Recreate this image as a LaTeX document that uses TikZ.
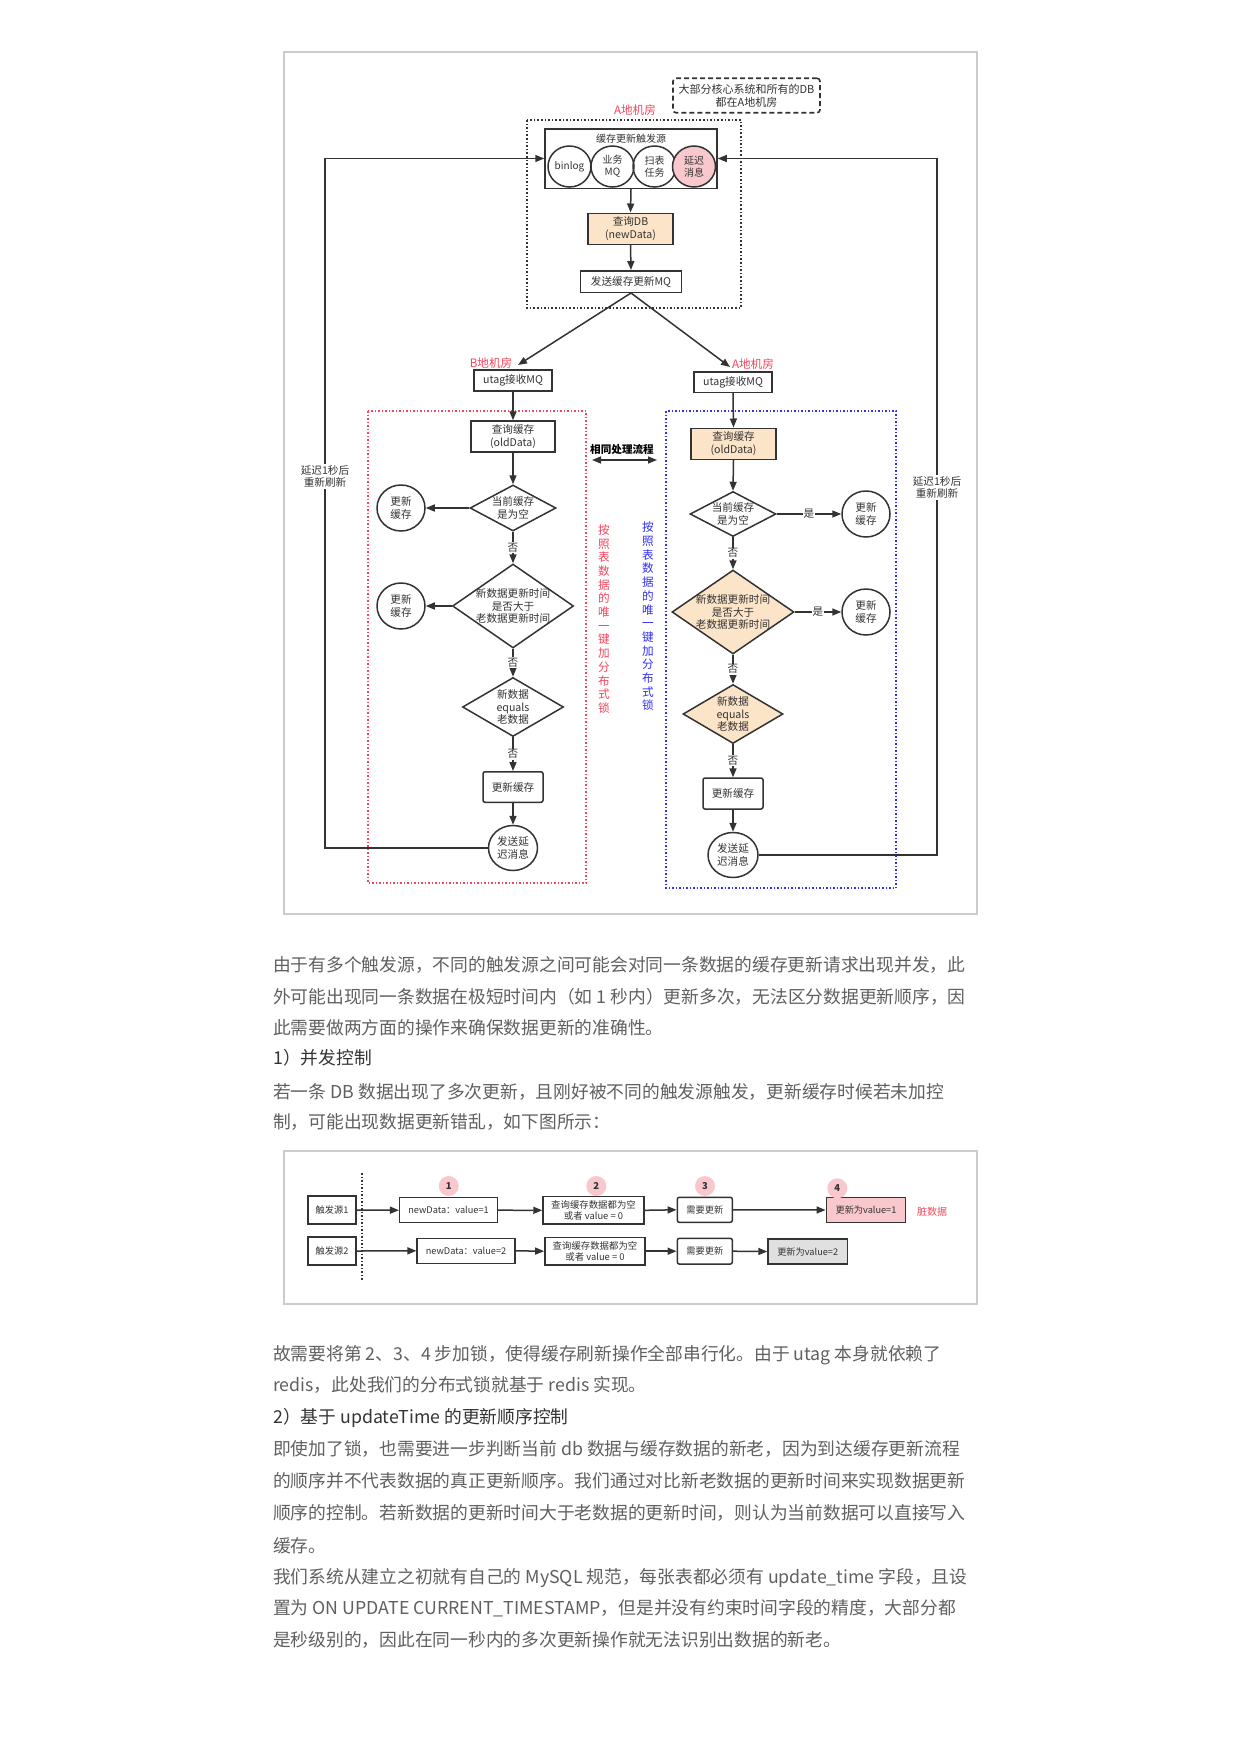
\documentclass[tikz,border=0pt]{standalone}
\usepackage{fontspec}
\setmainfont{Noto Sans CJK SC}
\usetikzlibrary{arrows.meta,shapes.geometric}
\definecolor{dk}{HTML}{333333}
\definecolor{peach}{HTML}{FCE4C8}
\definecolor{pinkf}{HTML}{F8C8CC}
\definecolor{redt}{HTML}{F5455C}
\definecolor{bluet}{HTML}{3030F0}
\definecolor{framec}{HTML}{CCCCCC}
\definecolor{bodyt}{HTML}{606060}
\definecolor{headt}{HTML}{333333}
\definecolor{grayf}{HTML}{E0E0E0}
\newcommand\dfont{\fontsize{10.6}{12.4}\selectfont}
\newcommand\sfontb{\fontsize{9.2}{11}\selectfont}
\tikzset{
  arr/.style={draw=dk, line width=1.5pt, -{Triangle[length=9pt,width=7pt]}},
  ln/.style={draw=dk, line width=1.5pt},
  box/.style={draw=dk, line width=1.5pt, inner sep=0pt, align=center, font=\dfont, text=dk},
  rbox/.style={box, rounded corners=2pt},
  circnode/.style={ellipse, draw=dk, line width=1.5pt, inner sep=0pt, align=center, font=\dfont, text=dk, minimum width=48pt, minimum height=46pt},
  trigc/.style={ellipse, draw=dk, line width=1.5pt, inner sep=0pt, align=center, font=\fontsize{10}{12}\selectfont, text=dk, minimum width=43pt, minimum height=41pt},
  dia/.style={diamond, draw=dk, line width=1.5pt, inner sep=0pt},
  dtext/.style={inner sep=0pt, align=center, font=\dfont, text=dk},
  lab/.style={fill=white, inner sep=1pt, font=\dfont, text=dk},
  redlbl/.style={inner sep=0pt, font=\fontsize{11.6}{13}\selectfont, text=redt},
  vtext/.style={inner sep=0pt, align=center, font=\fontsize{11.6}{13.7}\selectfont},
  frameb/.style={draw=framec, line width=1.5pt},
  sbox/.style={draw=dk, line width=1.5pt, inner sep=0pt, align=center, font=\sfontb, text=dk},
  numc/.style={circle, fill=pinkf, inner sep=0pt, minimum size=20pt, font=\fontsize{9.5}{11}\selectfont\bfseries, text=dk},
  para/.style={anchor=base west, inner sep=0pt, font=\fontsize{17.75}{22}\selectfont, text=bodyt},
  head/.style={para, text=headt},
}
\begin{document}
\begin{tikzpicture}[x=1pt,y=-1pt]
\useasboundingbox[fill=white] (0,0) rectangle (1241,1754);

% ===== top diagram =====
\draw[frameb] (284,52) rectangle (977,914);
\node[box, dashed, dash pattern=on 5pt off 3pt, line width=1.6pt, rounded corners=3pt, minimum width=147pt, minimum height=34.5pt, font=\fontsize{11}{12.8}\selectfont] (note) at (746.5,95.5) {大部分核心系统和所有的DB\\都在A地机房};
\node[redlbl] (lblA1) at (635,110) {A地机房};
\draw[draw=dk, line width=1.6pt, dotted] (527,120) rectangle (741,308);

\node[box, minimum width=172pt, minimum height=59.5pt] (trig) at (631,158.5) {};
\node[inner sep=0pt, font=\fontsize{10}{11}\selectfont, text=dk] (trigt) at (631,138.5) {缓存更新触发源};
\node[trigc] (c1) at (569.5,166.5) {binlog};
\node[trigc] (c2) at (612.5,166.5) {业务\\MQ};
\node[trigc] (c3) at (654.5,166.5) {扫表\\任务};
\node[trigc, fill=pinkf] (c4) at (694,166.5) {延迟\\消息};

\node[box, fill=peach, minimum width=85pt, minimum height=31pt] (qdb) at (630.5,228.75) {查询DB\\(newData)};
\node[box, minimum width=101pt, minimum height=21.5pt] (send) at (631,281.5) {发送缓存更新MQ};
\draw[arr] (trig.south) -- (qdb.north);
\draw[arr] (qdb.south) -- (send.north);

% left branch
\node[redlbl] (lblB) at (491,363) {B地机房};
\node[box, minimum width=78pt, minimum height=21pt] (utagB) at (513,380.5) {utag接收MQ};
\coordinate (tipB) at (518,365);
\draw[arr] (send.south) -- (tipB);
% right branch
\node[redlbl] (lblA2) at (753,364) {A地机房};
\node[box, minimum width=78pt, minimum height=20.5pt] (utagA) at (733,382) {utag接收MQ};
\coordinate (tipA) at (730,367);
\draw[arr] (send.south) -- (tipA);

% red dotted region
\draw[draw=redt, line width=1.5pt, dotted] (368,411) rectangle (586,883);
\node[box, minimum width=84pt, minimum height=31pt] (qcB) at (513,436.5) {查询缓存\\(oldData)};
\draw[arr] (utagB.south) -- (qcB.north);
\node[dia, minimum width=86pt, minimum height=46pt] (d1B) at (513,508) {};
\node[dtext] (d1Bt) at (513,508) {当前缓存\\是为空};
\draw[arr] (qcB.south) -- (d1B.north);
\node[circnode] (u1B) at (401,508) {更新\\缓存};
\draw[arr] (d1B.west) -- (u1B.east);
\node[dia, minimum width=121pt, minimum height=84pt] (d2B) at (513,606) {};
\node[dtext] (d2Bt) at (513,606) {新数据更新时间\\是否大于\\老数据更新时间};
\draw[arr] (d1B.south) -- node[lab] {否} (d2B.north);
\node[circnode] (u2B) at (401,606) {更新\\缓存};
\draw[arr] (d2B.west) -- (u2B.east);
\node[dia, minimum width=101pt, minimum height=59pt] (d3B) at (513,707) {};
\node[dtext] (d3Bt) at (513,707) {新数据\\equals\\老数据};
\draw[arr] (d2B.south) -- node[lab] {否} (d3B.north);
\node[rbox, minimum width=60pt, minimum height=30.5pt] (updB) at (513,787) {更新缓存};
\draw[arr] (d3B.south) -- node[lab] {否} (updB.north);
\node[circnode, minimum width=49pt, minimum height=45pt] (sendB) at (513,848) {发送延\\迟消息};
\draw[arr] (updB.south) -- (sendB.north);
\coordinate (cBL) at (325,848);
\coordinate (cTL) at (325,158.5);
\draw[arr] (sendB.west) -- (cBL) -- (cTL) -- (trig.west);
\node[lab, align=center, inner sep=1pt] (loopLt) at (325,476.5) {延迟1秒后\\重新刷新};
\node[vtext, text=redt] (vred) at (604,619) {按\\照\\表\\数\\据\\的\\唯\\一\\键\\加\\分\\布\\式\\锁};

% middle
\node[inner sep=0pt, font=\fontsize{10.6}{12}\selectfont\bfseries, text=black] (same) at (622,449) {相同处理流程};
\coordinate (sameL) at (592,460);
\coordinate (sameR) at (657,460);
\draw[draw=dk, line width=1.5pt, {Triangle[length=9pt,width=7pt]}-{Triangle[length=9pt,width=7pt]}] (sameL) -- (sameR);

% blue dotted region
\draw[draw=bluet, line width=1.5pt, dotted] (666,411) rectangle (896,888);
\node[box, fill=peach, minimum width=85pt, minimum height=31pt] (qcA) at (733.5,443.75) {查询缓存\\(oldData)};
\draw[arr] (utagA.south) -- (qcA.north);
\node[dia, minimum width=86pt, minimum height=45pt] (d1A) at (733,514) {};
\node[dtext] (d1At) at (733,514) {当前缓存\\是为空};
\draw[arr] (qcA.south) -- (d1A.north);
\node[circnode] (u1A) at (866,514) {更新\\缓存};
\draw[arr] (d1A.east) -- node[lab] {是} (u1A.west);
\node[dia, fill=peach, minimum width=122pt, minimum height=84pt] (d2A) at (733,612) {};
\node[dtext] (d2At) at (733,612) {新数据更新时间\\是否大于\\老数据更新时间};
\draw[arr] (d1A.south) -- node[lab] {否} (d2A.north);
\node[circnode] (u2A) at (866,612) {更新\\缓存};
\draw[arr] (d2A.east) -- node[lab] {是} (u2A.west);
\node[dia, fill=peach, minimum width=100pt, minimum height=59pt] (d3A) at (733,714) {};
\node[dtext] (d3At) at (733,714) {新数据\\equals\\老数据};
\draw[arr] (d2A.south) -- node[lab] {否} (d3A.north);
\node[rbox, minimum width=60pt, minimum height=31pt] (updA) at (733,793.5) {更新缓存};
\draw[arr] (d3A.south) -- node[lab] {否} (updA.north);
\node[circnode, minimum width=50pt, minimum height=45pt] (sendA) at (733,855) {发送延\\迟消息};
\draw[arr] (updA.south) -- (sendA.north);
\coordinate (cBR) at (937,855);
\coordinate (cTR) at (937,158.5);
\draw[arr] (sendA.east) -- (cBR) -- (cTR) -- (trig.east);
\node[lab, align=center, inner sep=1pt] (loopRt) at (937,487.5) {延迟1秒后\\重新刷新};
\node[vtext, text=bluet] (vblue) at (648,616.5) {按\\照\\表\\数\\据\\的\\唯\\一\\键\\加\\分\\布\\式\\锁};

% ===== paragraph block 1 =====
\node[para] (p1) at (273,971.5) {由于有多个触发源，不同的触发源之间可能会对同一条数据的缓存更新请求出现并发，此};
\node[para] (p2) at (273,1003) {外可能出现同一条数据在极短时间内（如 1 秒内）更新多次，无法区分数据更新顺序，因};
\node[para] (p3) at (273,1034.5) {此需要做两方面的操作来确保数据更新的准确性。};
\node[head] (p4) at (273,1064.5) {1）并发控制};
\node[para] (p5) at (273,1098.5) {若一条 DB 数据出现了多次更新，且刚好被不同的触发源触发，更新缓存时候若未加控};
\node[para] (p6) at (273,1128.5) {制，可能出现数据更新错乱，如下图所示：};

% ===== bottom diagram =====
\draw[frameb] (284,1151) rectangle (977,1304);
\draw[draw=dk, line width=1.5pt, dotted] (362,1173) -- (362,1281);
\node[sbox, minimum width=48pt, minimum height=28pt] (src1) at (332,1210) {触发源1};
\node[sbox, minimum width=48pt, minimum height=28pt] (src2) at (332,1251) {触发源2};
\node[sbox, minimum width=97.6pt, minimum height=25pt] (nd1) at (448.5,1210.2) {newData：value=1};
\node[sbox, minimum width=97.7pt, minimum height=25pt] (nd2) at (466,1250.8) {newData：value=2};
\node[sbox, minimum width=101pt, minimum height=27.3pt, font=\fontsize{9.4}{10.4}\selectfont] (q1) at (593.5,1210.3) {查询缓存数据都为空\\或者 value = 0};
\node[sbox, minimum width=100.3pt, minimum height=27.7pt, font=\fontsize{9.4}{10.4}\selectfont] (q2) at (595,1251.2) {查询缓存数据都为空\\或者 value = 0};
\node[sbox, rounded corners=2pt, minimum width=55pt, minimum height=25pt] (n1) at (704.8,1209.8) {需要更新};
\node[sbox, rounded corners=2pt, minimum width=55pt, minimum height=25.7pt] (n2) at (704.8,1251.2) {需要更新};
\node[sbox, fill=pinkf, minimum width=79.4pt, minimum height=24.6pt] (v1) at (866,1210) {更新为value=1};
\node[sbox, fill=grayf, minimum width=79.3pt, minimum height=25pt] (v2) at (807.7,1251.5) {更新为value=2};
\node[inner sep=0pt, font=\fontsize{10}{12}\selectfont, text=redt] (dirty) at (932,1211.7) {脏数据};
\node[numc] (k1) at (448.7,1186) {1};
\node[numc] (k2) at (596.3,1186) {2};
\node[numc] (k3) at (705,1186) {3};
\node[numc] (k4) at (837.3,1188.3) {4};
\draw[arr] (src1.east) -- (nd1.west);
\draw[arr] (nd1.east) -- (q1.west);
\draw[arr] (q1.east) -- (n1.west);
\draw[arr] (n1.east) -- (v1.west);
\draw[arr] (src2.east) -- (nd2.west);
\draw[arr] (nd2.east) -- (q2.west);
\draw[arr] (q2.east) -- (n2.west);
\draw[arr] (n2.east) -- (v2.west);

% ===== paragraph block 2 =====
\node[para] (r1) at (273,1360) {故需要将第 2、3、4 步加锁，使得缓存刷新操作全部串行化。由于 utag 本身就依赖了};
\node[para] (r2) at (273,1391.5) {redis，此处我们的分布式锁就基于 redis 实现。};
\node[head] (r3) at (273,1423) {2）基于 updateTime 的更新顺序控制};
\node[para] (r4) at (273,1455) {即使加了锁，也需要进一步判断当前 db 数据与缓存数据的新老，因为到达缓存更新流程};
\node[para] (r5) at (273,1487.5) {的顺序并不代表数据的真正更新顺序。我们通过对比新老数据的更新时间来实现数据更新};
\node[para] (r6) at (273,1519.5) {顺序的控制。若新数据的更新时间大于老数据的更新时间，则认为当前数据可以直接写入};
\node[para] (r7) at (273,1552.5) {缓存。};
\node[para] (r8) at (273,1583.5) {我们系统从建立之初就有自己的 MySQL 规范，每张表都必须有 update\_time 字段，且设};
\node[para] (r9) at (273,1614) {置为 ON UPDATE CURRENT\_TIMESTAMP，但是并没有约束时间字段的精度，大部分都};
\node[para] (r10) at (273,1646.5) {是秒级别的，因此在同一秒内的多次更新操作就无法识别出数据的新老。};
\end{tikzpicture}
\end{document}
